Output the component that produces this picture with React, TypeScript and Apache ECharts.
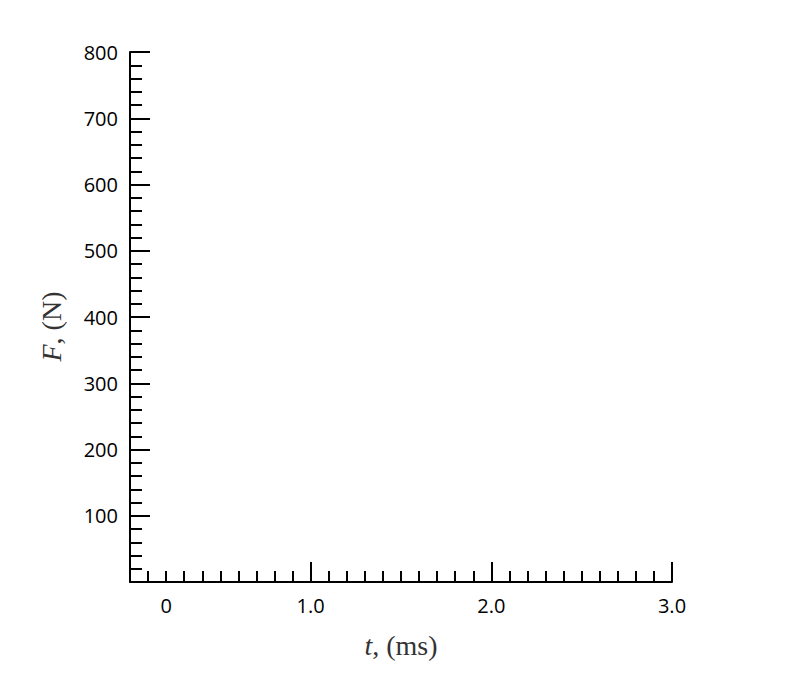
import React, { useEffect, useRef } from "react";
import * as echarts from "echarts";

// Axis ranges and tick labels
const xRange = [0, 3];
const xMajorStep = 1;
const xMinorSplits = 10;
const xTickLabels = ["0", "1.0", "2.0", "3.0"];
const xZeroLabelPos = 0.2; // the "0" label sits slightly right of the origin
const yRange = [0, 800];
const yMajorStep = 100;
const yMinorSplits = 5;
const yTickLabels = ["", "100", "200", "300", "400", "500", "600", "700", "800"];
// The plot is empty: no data points
const seriesPoints: number[][] = [];

const labelFont = "'Open Sans', 'Noto Sans', sans-serif";
const titleFont = "'Liberation Serif', 'DejaVu Serif', serif";
const titleSize = 28;
const labelSize = 20;

export default function App() {
  const ref = useRef<HTMLDivElement>(null);
  useEffect(() => {
    if (!ref.current) return;
    const chart = echarts.init(ref.current, null, { renderer: "svg" });
    const near = (a: number, b: number) => Math.abs(a - b) < 1e-6;
    const titleStyle = (pad: number[]) => ({
      fontFamily: titleFont,
      fontSize: titleSize,
      color: "#333",
      padding: pad,
      rich: { i: { fontFamily: titleFont, fontStyle: "italic", fontSize: titleSize, color: "#333" } },
    });
    chart.setOption({
      animation: false,
      backgroundColor: "#ffffff",
      grid: { left: 130, right: 122, top: 52, bottom: 112, containLabel: false },
      xAxis: [
        {
          type: "value",
          min: xRange[0],
          max: xRange[1],
          interval: xMajorStep,
          position: "bottom",
          name: "{i|t}, (ms)",
          nameLocation: "middle",
          nameGap: 49,
          nameTextStyle: titleStyle([0, 0, 0, 0]),
          axisLine: { show: true, onZero: false, lineStyle: { color: "#000", width: 2 } },
          axisTick: { show: true, inside: true, length: 20, lineStyle: { color: "#000", width: 2 } },
          minorTick: { show: true, splitNumber: xMinorSplits, length: 11, lineStyle: { color: "#000", width: 2 } },
          splitLine: { show: false },
          axisLabel: {
            margin: 13,
            fontFamily: labelFont,
            fontSize: labelSize,
            color: "#000",
            formatter: (v: number) => {
              const i = Math.round(v / xMajorStep);
              return i === 0 ? "" : xTickLabels[i] ?? "";
            },
          },
        },
        {
          type: "value",
          min: xRange[0],
          max: xRange[1],
          interval: xZeroLabelPos,
          position: "bottom",
          axisLine: { show: false },
          axisTick: { show: false },
          splitLine: { show: false },
          axisLabel: {
            margin: 13,
            fontFamily: labelFont,
            fontSize: labelSize,
            color: "#000",
            formatter: (v: number) => (near(v, xZeroLabelPos) ? xTickLabels[0] : ""),
          },
        },
      ],
      yAxis: {
        type: "value",
        min: yRange[0],
        max: yRange[1],
        interval: yMajorStep,
        name: "{i|F}, (N)",
        nameLocation: "middle",
        nameGap: 65,
        nameTextStyle: titleStyle([0, 19, 0, 0]),
        axisLine: { show: true, onZero: false, lineStyle: { color: "#000", width: 2 } },
        axisTick: { show: true, inside: true, length: 20, lineStyle: { color: "#000", width: 2 } },
        minorTick: { show: true, splitNumber: yMinorSplits, length: 12, lineStyle: { color: "#000", width: 2 } },
        splitLine: { show: false },
        axisLabel: {
          margin: 12,
          fontFamily: labelFont,
          fontSize: labelSize,
          color: "#000",
          formatter: (v: number) => yTickLabels[Math.round(v / yMajorStep)] ?? "",
        },
      },
      series: [
        { type: "line", xAxisIndex: 0, yAxisIndex: 0, data: seriesPoints, symbol: "none" },
      ],
    });
    return () => chart.dispose();
  }, []);
  return (
    <div
      ref={ref}
      style={{ position: "fixed", left: 0, top: 0, width: 794, height: 694, background: "#fff" }}
    />
  );
}
